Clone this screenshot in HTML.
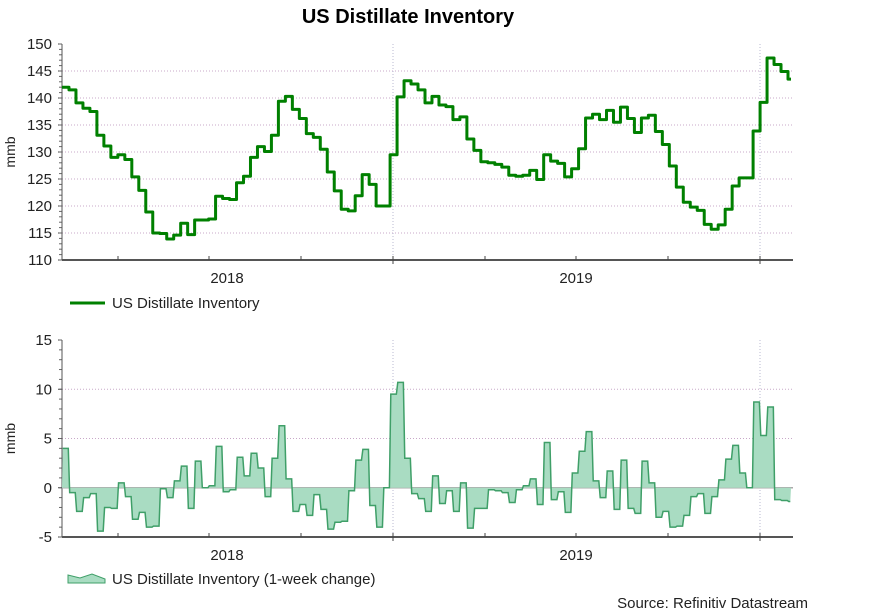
<!DOCTYPE html>
<html><head><meta charset="utf-8"><style>
body{margin:0;background:#fff;width:875px;height:611px;overflow:hidden;font-family:"Liberation Sans",Arial,sans-serif}
svg text{font-family:"Liberation Sans",Arial,sans-serif;fill:#222}
</style></head><body>
<svg id="c" width="875" height="611"></svg>
<script>
const inventory=[142.0,141.5,139.1,138.1,137.5,133.1,131.1,129.0,129.5,128.6,125.4,122.9,118.9,115.0,114.9,113.9,114.6,116.8,114.7,117.4,117.4,117.6,121.8,121.4,121.2,124.3,125.5,129.0,131.0,130.1,133.1,139.4,140.3,137.9,136.2,
133.4,132.7,130.5,126.3,122.8,119.4,119.1,121.9,125.8,124.0,120.0,120.0,129.5,140.2,143.2,142.6,141.5,139.1,140.3,138.7,138.4,136.0,136.5,132.4,130.3,128.2,128.0,127.7,127.2,125.7,125.5,125.7,126.6,124.9,129.5,
128.3,127.9,125.4,126.9,130.6,136.3,137.0,136.0,137.7,135.5,138.3,136.2,133.6,136.3,136.8,133.8,131.4,127.4,123.5,120.7,119.8,119.2,116.6,115.7,116.5,119.4,123.7,125.2,125.2,133.9,139.2,147.4,146.2,144.9,143.5];
const weeklyChange=[4.0,-0.5,-2.4,-1.0,-0.6,-4.4,-2.0,-2.1,0.5,-0.9,-3.2,-2.5,-4.0,-3.9,-0.1,-1.0,0.7,2.2,-2.1,2.7,0.0,0.2,4.2,-0.4,-0.2,3.1,1.2,3.5,2.0,-0.9,3.0,6.3,0.9,-2.4,-1.7,-2.8,-0.7,-2.2,-4.2,-3.5,-3.4,-0.3,2.8,3.9,-1.8,-4.0,0.0,9.5,10.7,3.0,-0.6,-1.1,-2.4,1.2,-1.6,-0.3,-2.4,0.5,-4.1,-2.1,-2.1,-0.2,-0.3,-0.5,-1.5,-0.2,0.2,0.9,-1.7,4.6,-1.2,-0.4,-2.5,1.5,3.7,5.7,0.7,-1.0,1.7,-2.2,2.8,-2.1,-2.6,2.7,0.5,-3.0,-2.4,-4.0,-3.9,-2.8,-0.9,-0.6,-2.6,-0.9,0.8,2.9,4.3,1.5,0.0,8.7,5.3,8.2,-1.2,-1.3,-1.4];
const topTicks=[150,145,140,135,130,125,120,115,110];
const bottomTicks=[15,10,5,0,-5];
const yearLabels=["2018","2019"];

const NS="http://www.w3.org/2000/svg";
const svg=document.getElementById('c');
function mk(tag,attrs,parent,name,text){const e=document.createElementNS(NS,tag);for(const k in attrs)e.setAttribute(k,attrs[k]);


if(text!==undefined)e.textContent=text;(parent||svg).appendChild(e);return e;}
const X0=62,X1=793,N=inventory.length,W=(788-X0)/(N-1);
const xw=i=>X0+i*W;
const yTop=v=>44+(150-v)*(216/40);
const yBot=v=>340+(15-v)*(197/20);
const yearX=[227,576];
const quarterX=[118,209,301,393,485,576,668,760];

mk('text',{x:408,y:23,'text-anchor':'middle','font-size':20,'font-weight':'bold',style:'fill:#000'},svg,'chart-title','US Distillate Inventory');

function panel(yf,ticks,top,bottom,pname){
  const g=mk('g',{},svg,pname);
  ticks.forEach(t=>{const y=yf(t);
    if(y>top+1&&y<bottom-1) mk('line',{x1:X0,x2:X1,y1:y,y2:y,stroke:'#c8a8c8','stroke-dasharray':'1,2','stroke-width':1},g,'grid-line');
    mk('text',{x:52,y:y+5,'text-anchor':'end','font-size':15},g,'y-tick-label',t);
    mk('line',{x1:X0-4,x2:X0,y1:y,y2:y,stroke:'#444'},g,'y-tick');
  });
  [393,760].forEach(x=>mk('line',{x1:x,x2:x,y1:top,y2:bottom,stroke:'#b8b8d0','stroke-dasharray':'1,2'},g,'year-grid-line'));
  const step=(ticks[0]-ticks[1])/5;
  for(let v=ticks[ticks.length-1];v<=ticks[0];v+=step){const y=yf(v);mk('line',{x1:X0-3,x2:X0,y1:y,y2:y,stroke:'#666'},g,'minor-tick');}
  mk('line',{x1:X0,x2:X0,y1:top,y2:bottom,stroke:'#555'},g,'y-axis');
  mk('line',{x1:X0,x2:X1,y1:bottom,y2:bottom,stroke:'#555','stroke-width':2},g,'x-axis');
  quarterX.forEach(x=>mk('line',{x1:x,x2:x,y1:bottom-4,y2:bottom+(x===393||x===760?4:0),stroke:'#444'},g,'x-tick'));
  yearLabels.forEach((l,i)=>mk('text',{x:yearX[i],y:bottom+23,'text-anchor':'middle','font-size':15},g,'x-year-label',l));
  mk('text',{x:15,y:(top+bottom)/2,'text-anchor':'middle','font-size':14,transform:`rotate(-90 15 ${(top+bottom)/2})`},g,'y-axis-title','mmb');
  return g;
}
const gt=panel(yTop,topTicks,44,260,'top-panel');
let d='';
inventory.forEach((v,i)=>{const x=xw(i),x2=i===N-1?X1-2:xw(i+1),y=yTop(v);d+=(i?'L':'M')+x+','+y+'L'+x2+','+y;});
mk('path',{d:d,fill:'none',stroke:'#008000','stroke-width':3,'stroke-linejoin':'round'},gt,'inventory-line');

const gb=panel(yBot,bottomTicks,340,537,'bottom-panel');
const y0=yBot(0);
mk('line',{x1:X0,x2:X1,y1:y0,y2:y0,stroke:'#aaa','stroke-width':1.5},gb,'zero-line');
let a='M'+X0+','+y0,l='';
weeklyChange.forEach((v,i)=>{const x=xw(i)+0.7,x2=(i===N-1?X1-2:xw(i+1))-0.7,y=yBot(v);a+='L'+x+','+y+'L'+x2+','+y;l+=(i?'L':'M')+x+','+y+'L'+x2+','+y;});
a+='L'+(X1-2)+','+y0+'Z';
mk('path',{d:a,fill:'#a9dcc2',stroke:'none'},gb,'change-area');
mk('path',{d:l,fill:'none',stroke:'#3f9f68','stroke-width':1.5},gb,'change-outline');

mk('line',{x1:70,x2:105,y1:303,y2:303,stroke:'#008000','stroke-width':3},svg,'legend-line-icon');
mk('text',{x:112,y:308,'font-size':15},svg,'legend-label-inventory','US Distillate Inventory');
mk('path',{d:'M68,583 L68,575 L80,578 L92,574 L105,579 L105,583 Z',fill:'#a9dcc2',stroke:'#3f9f68'},svg,'legend-area-icon');
mk('text',{x:112,y:584,'font-size':15},svg,'legend-label-change','US Distillate Inventory (1-week change)');
mk('text',{x:808,y:608,'text-anchor':'end','font-size':15},svg,'source-note','Source: Refinitiv Datastream');
</script>
</body></html>
